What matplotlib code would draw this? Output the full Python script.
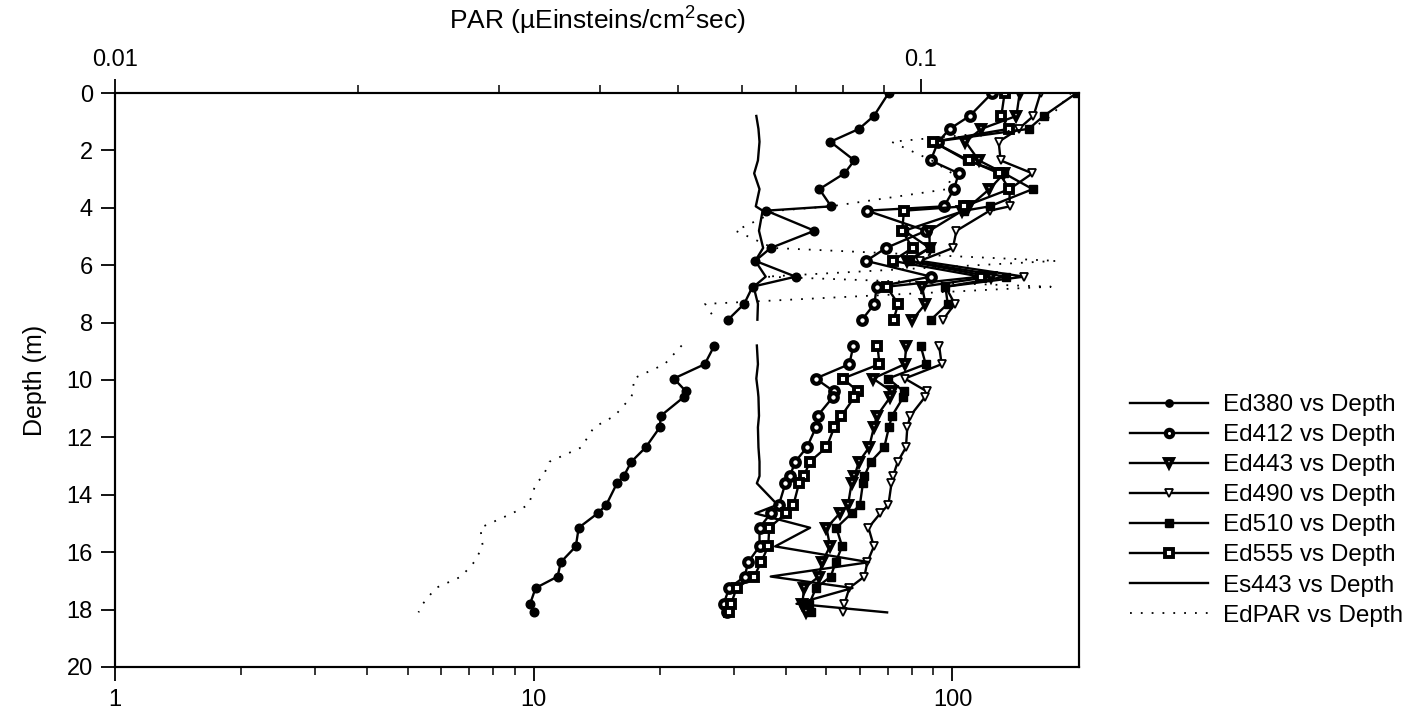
import numpy as np
import matplotlib
matplotlib.use("Agg")
import matplotlib.pyplot as plt
from matplotlib.ticker import FixedLocator, NullFormatter

plt.rcParams['font.family'] = ['Liberation Sans', 'DejaVu Sans']
plt.rcParams['mathtext.default'] = 'regular'

nan = np.nan

# ------------------------------------------------------------
# data, gap between casts = nan
# ------------------------------------------------------------
depth = [0, 0.8, 1.25, 1.7, 2.35, 2.8, 3.35, 3.95, 4.1, 4.8, 5.4, 5.85, 6.4, 6.75, 7.35, 7.9, nan,
         8.8, 9.45, 9.95, 10.4, 10.6, 11.25, 11.65, 12.35, 12.85, 13.35, 13.6, 14.35, 14.65,
         15.15, 15.8, 16.35, 16.85, 17.25, 17.8, 18.1]

ed380 = [70.4, 64.9, 59.8, 51.1, 58.3, 55.2, 48.1, 51.3, 35.9, 46.8, 36.8, 33.8, 42.2, 33.3, 31.8, 29.1, nan,
         27.0, 25.6, 21.6, 23.1, 22.8, 20.1, 20.0, 18.5, 17.1, 16.4, 15.8, 14.9, 14.2,
         12.8, 12.6, 11.6, 11.4, 10.1, 9.8, 10.0]
ed412 = [124.4, 109.9, 98.5, 92.4, 88.7, 103.5, 100.8, 95.5, 62.5, 86.5, 69.4, 62.2, 88.9, 65.9, 65.1, 60.8, nan,
         58.0, 56.7, 47.1, 52.1, 51.8, 47.6, 47.2, 44.9, 42.1, 40.9, 39.9, 38.5, 36.8,
         34.6, 34.6, 32.5, 31.9, 29.3, 28.4, 28.9]
ed443 = [144.7, 142.1, 117.2, 107.4, 115.6, 132.9, 122.5, 109.7, 105.6, 88.1, 88.2, 77.7, 123.4, 84.6, 86.2, 80.2, nan,
         77.5, 76.9, 64.6, 71.6, 71.0, 66.0, 64.9, 63.2, 59.8, 58.3, 57.4, 56.3, 53.8,
         50.0, 51.0, 48.8, 48.0, 44.2, 43.8, 44.7]
ed490 = [162.3, 156.1, 143.9, 128.9, 130.3, 155.2, 136.8, 137.0, 122.7, 102.2, 100.2, 83.6, 148.2, 96.2, 101.3, 94.9, nan,
         92.9, 94.2, 76.9, 86.9, 85.9, 79.3, 78.0, 77.4, 74.0, 72.1, 71.5, 70.3, 67.2,
         63.0, 64.9, 62.6, 61.6, 56.7, 55.2, 54.7]
ed510 = [198.0, 165.1, 152.1, 89.9, 108.1, 132.9, 155.4, 122.7, 106.8, 76.7, 88.2, 79.0, 134.1, 96.2, 97.4, 88.8, nan,
         83.9, 86.3, 70.2, 76.5, 76.3, 71.7, 70.5, 68.7, 63.8, 61.6, 61.1, 60.1, 57.4,
         52.8, 54.5, 52.6, 51.2, 47.2, 45.5, 45.9]
ed555 = [133.2, 130.8, 136.2, 89.9, 109.3, 129.3, 136.8, 106.8, 76.6, 75.8, 80.3, 71.9, 116.7, 69.6, 74.2, 72.3, nan,
         66.2, 66.9, 54.7, 59.5, 58.3, 54.3, 52.2, 50.0, 45.6, 44.2, 43.0, 41.7, 40.0,
         36.5, 36.3, 34.9, 33.6, 30.5, 29.6, 29.2]
es443 = [nan, 34.0, 34.4, 34.6, 34.3, 33.6, 34.6, 33.9, 35.2, 34.5, 35.3, 33.8, 35.8, 33.5, 34.3, 34.2, nan,
         34.1, 34.3, 34.0, 34.3, 34.4, 34.5, 34.3, 34.4, 34.6, 34.6, 34.1, 38.2, 33.8,
         45.7, 37.7, 63.2, 36.8, 57.7, 42.4, 69.8]
# EdPAR is read on the top (PAR) axis
edpar = [0.1536, 0.1452, 0.1372, 0.0920, 0.1032, 0.1094, 0.1079, 0.0773, 0.0664, 0.0589, 0.0656, 0.1474, 0.0642, 0.1450, 0.0540, 0.0556, nan,
         0.0505, 0.0481, 0.0440, 0.0440, 0.0437, 0.0417, 0.0393, 0.0379, 0.0346, 0.0340, 0.0333, 0.0326, 0.0311,
         0.0284, 0.0286, 0.0279, 0.0269, 0.0250, 0.0241, 0.0238]

depth_ticks = list(range(0, 21, 2))
bottom_ticks = [1, 10, 100]
top_ticks = [0.01, 0.1]

# ------------------------------------------------------------
# figure
# ------------------------------------------------------------
fig = plt.figure(figsize=(14.21, 7.21), dpi=100)
ax = fig.add_axes([0.081, 0.075, 0.678, 0.796])
ax_top = ax.twiny()

lw = 1.7
ms = 6.2
common = dict(color='black', lw=lw, ms=ms, mec='black')

ax.plot(ed380, depth, marker='o', mfc='black', label='Ed380 vs Depth', **common)
ax.plot(ed412, depth, marker='o', mfc='white', mew=3.0, label='Ed412 vs Depth', **common)
ax.plot(ed443, depth, marker='v', mfc='white', mew=2.8, label='Ed443 vs Depth', **common)
ax.plot(ed490, depth, marker='v', mfc='white', mew=1.3, label='Ed490 vs Depth', **common)
ax.plot(ed510, depth, marker='s', mfc='black', label='Ed510 vs Depth', **common)
ax.plot(ed555, depth, marker='s', mfc='white', mew=2.8, label='Ed555 vs Depth', **common)
ax.plot(es443, depth, color='black', lw=lw, label='Es443 vs Depth')
ax_top.plot(edpar, depth, color='black', lw=1.3, linestyle=(0, (1, 5)), label='EdPAR vs Depth')

# bottom axis
ax.set_xscale('log')
ax.set_xlim(1, 200)
ax.xaxis.set_major_locator(FixedLocator(bottom_ticks))
ax.set_xticklabels([str(t) for t in bottom_ticks])
ax.xaxis.set_minor_locator(FixedLocator([2, 3, 4, 5, 6, 7, 8, 9, 20, 30, 40, 50, 60, 70, 80, 90]))
ax.xaxis.set_minor_formatter(NullFormatter())

# depth axis
ax.set_ylim(20, 0)
ax.set_yticks(depth_ticks)
ax.set_ylabel('Depth (m)', fontsize=18, labelpad=14)

# top axis
ax_top.set_xscale('log')
ax_top.set_xlim(0.01, 0.157)
ax_top.set_ylim(20, 0)
ax_top.xaxis.set_major_locator(FixedLocator(top_ticks))
ax_top.set_xticklabels([str(t) for t in top_ticks])
ax_top.xaxis.set_minor_locator(FixedLocator([0.02, 0.03, 0.04, 0.05, 0.06, 0.07, 0.08, 0.09]))
ax_top.xaxis.set_minor_formatter(NullFormatter())
ax_top.set_xlabel('PAR (\u00b5Einsteins/cm$^{2}$sec)', fontsize=19, labelpad=14)

for a in (ax, ax_top):
    a.tick_params(axis='both', which='major', labelsize=17, direction='out', length=10, width=1.3, pad=6)
    a.tick_params(axis='both', which='minor', direction='out', length=6, width=1.1)
    for s in a.spines.values():
        s.set_linewidth(1.5)

# legend with both axes' handles
h1, l1 = ax.get_legend_handles_labels()
h2, l2 = ax_top.get_legend_handles_labels()
fig.legend(h1 + h2, l1 + l2, loc='upper left', bbox_to_anchor=(0.787, 0.47),
           frameon=False, fontsize=17.5, handlelength=3.2, handletextpad=0.6,
           labelspacing=0.33, borderpad=0, markerscale=0.85)

fig.savefig('out.png', dpi=100)
